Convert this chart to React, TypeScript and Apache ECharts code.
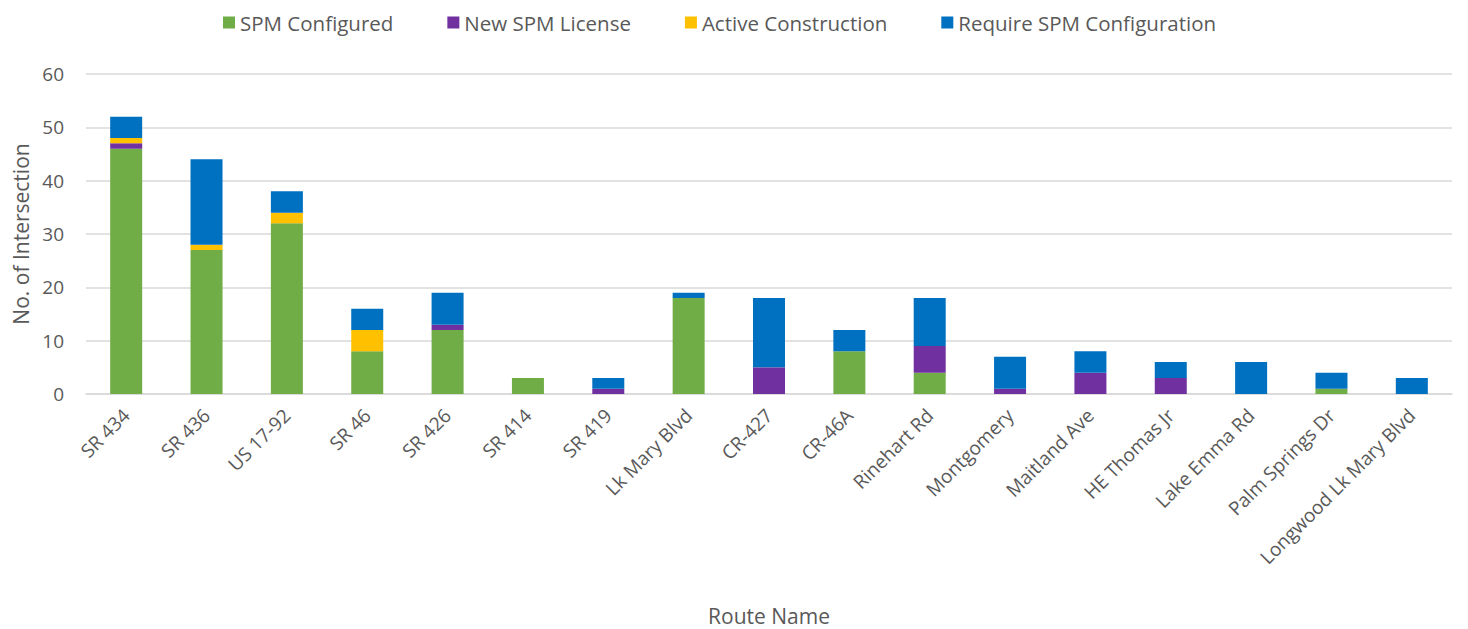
import React, { useEffect, useRef } from "react";
import * as echarts from "echarts";

const categories = ["SR 434", "SR 436", "US 17-92", "SR 46", "SR 426", "SR 414", "SR 419", "Lk Mary Blvd", "CR-427", "CR-46A", "Rinehart Rd", "Montgomery", "Maitland Ave", "HE Thomas Jr", "Lake Emma Rd", "Palm Springs Dr", "Longwood Lk Mary Blvd"];
const spmConfigured = [46, 27, 32, 8, 12, 3, 0, 18, 0, 8, 4, 0, 0, 0, 0, 1, 0];
const newSpmLicense = [1, 0, 0, 0, 1, 0, 1, 0, 5, 0, 5, 1, 4, 3, 0, 0, 0];
const activeConstruction = [1, 1, 2, 4, 0, 0, 0, 0, 0, 0, 0, 0, 0, 0, 0, 0, 0];
const requireSpmConfig = [4, 16, 4, 4, 6, 0, 2, 1, 13, 4, 9, 6, 4, 3, 6, 3, 3];

const FONT = "'Open Sans', sans-serif";

export default function App() {
  const ref = useRef<HTMLDivElement>(null);
  useEffect(() => {
    const chart = echarts.init(ref.current!, null, { renderer: "svg" });
    const mk = (name: string, data: number[], color: string) => ({
      name,
      type: "bar",
      stack: "total",
      data: data.map((v) => (v === 0 ? null : v)),
      barWidth: 32,
      itemStyle: { color },
    });
    chart.setOption({
      animation: false,
      textStyle: { fontFamily: FONT },
      legend: {
        top: -1,
        left: 210,
        itemWidth: 12,
        itemHeight: 12,
        itemGap: 54,
        icon: "rect",
        textStyle: { color: "#595959", fontSize: 20.5, fontFamily: FONT },
        data: ["SPM Configured", "New SPM License", "Active Construction", "Require SPM Configuration"],
      },
      grid: { left: 78, right: 8, top: 66, bottom: 235, containLabel: false, outerBoundsMode: "none" },
      xAxis: {
        type: "category",
        data: categories,
        name: "Route Name",
        nameLocation: "middle",
        nameGap: 211,
        nameTextStyle: { color: "#595959", fontSize: 21, fontFamily: FONT },
        axisLine: { lineStyle: { color: "#d9d9d9", width: 1.5 } },
        axisTick: { show: false },
        axisLabel: { rotate: 45, color: "#595959", fontSize: 19, margin: 18, interval: 0, fontFamily: FONT },
      },
      yAxis: {
        type: "value",
        min: 0,
        max: 60,
        interval: 10,
        name: "No. of Intersection",
        nameLocation: "middle",
        nameGap: 50,
        nameTextStyle: { color: "#595959", fontSize: 21, fontFamily: FONT },
        axisLine: { show: false },
        axisTick: { show: false },
        splitLine: { lineStyle: { color: "#d9d9d9", width: 1.5 } },
        axisLabel: { color: "#595959", fontSize: 19, margin: 22, fontFamily: FONT },
      },
      series: [
        mk("SPM Configured", spmConfigured, "#70AD47"),
        mk("New SPM License", newSpmLicense, "#7030A0"),
        mk("Active Construction", activeConstruction, "#FFC000"),
        mk("Require SPM Configuration", requireSpmConfig, "#0070C0"),
      ],
    });
    return () => chart.dispose();
  }, []);
  return <div ref={ref} style={{ width: 1452, height: 621 }} />;
}
